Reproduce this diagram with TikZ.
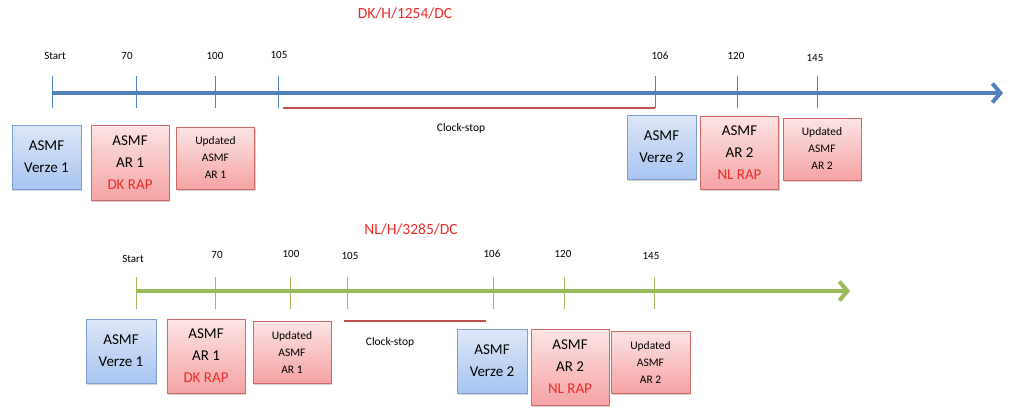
\documentclass[tikz,border=0pt]{standalone}
\usepackage{fontspec}
\setmainfont{Carlito}
\usetikzlibrary{arrows.meta,shadows}
\definecolor{axblue}{HTML}{4F81BD}
\definecolor{axgreen}{HTML}{9BBB59}
\definecolor{csred}{HTML}{C0504D}
\definecolor{ttred}{HTML}{EE2A2A}
\definecolor{bTop}{HTML}{DDE7F8}
\definecolor{bBot}{HTML}{A7C4F0}
\definecolor{bBorder}{HTML}{7E9FD3}
\definecolor{rTop}{HTML}{FDE4E4}
\definecolor{rBot}{HTML}{F5A3A3}
\definecolor{rBorder}{HTML}{CF6A68}
\tikzset{
  box/.style={draw, line width=0.8pt, align=center, inner sep=0pt,
    drop shadow={shadow xshift=1.2pt, shadow yshift=-1.8pt, opacity=0.35}},
  bluebox/.style={box, draw=bBorder, top color=bTop, bottom color=bBot,
    minimum width=69pt, minimum height=64pt,
    font=\fontsize{15}{22}\selectfont},
  redbox/.style={box, draw=rBorder, top color=rTop, bottom color=rBot,
    minimum width=78pt, minimum height=75pt,
    font=\fontsize{15}{22}\selectfont},
  updbox/.style={box, draw=rBorder, top color=rTop, bottom color=rBot,
    minimum width=78pt, minimum height=62pt,
    font=\fontsize{11.5}{17}\selectfont},
  ticklbl/.style={font=\fontsize{11}{13}\selectfont, inner sep=0pt},
  title/.style={font=\fontsize{15.5}{18}\selectfont, text=ttred, inner sep=0pt},
  cslbl/.style={font=\fontsize{11.5}{13}\selectfont, inner sep=0pt},
  axisA/.style={line width=4pt, -{Straight Barb[length=8pt,width=19pt,line width=4pt]}},
  tickA/.style={line width=0.9pt},
  csline/.style={draw=csred, line width=2.2pt},
}
\begin{document}
\begin{tikzpicture}[x=1pt,y=-1pt]
\useasboundingbox (0,0) rectangle (1023,416);
% ---------- top timeline ----------
\node[title] (t1) at (405,13) {DK/H/1254/DC};
\coordinate (a1s) at (52,93);
\coordinate (a1e) at (1003,93);
\draw[axisA, draw=axblue] (a1s) -- (a1e);
\foreach \n/\x in {s/52,a/136,b/215,c/278,d/655,e/737,f/817}{
  \coordinate (T1\n u) at (\x,76);
  \coordinate (T1\n d) at (\x,108);
  \draw[tickA, draw=axblue] (T1\n u) -- (T1\n d);
}
\node[ticklbl] (l1s) at (55,56) {Start};
\node[ticklbl] (l1a) at (127,56) {70};
\node[ticklbl] (l1b) at (215,56) {100};
\node[ticklbl] (l1c) at (279,55) {105};
\node[ticklbl] (l1d) at (660,56) {106};
\node[ticklbl] (l1e) at (736,56) {120};
\node[ticklbl] (l1f) at (815,58) {145};
\coordinate (c1s) at (283,108);
\coordinate (c1e) at (655,108);
\draw[csline] (c1s) -- (c1e);
\node[cslbl] (cs1) at (461,128) {Clock-stop};
\node[bluebox] (v11) at (46.5,157) {ASMF\\Verze 1};
\node[redbox] (r11) at (130,162.5) {ASMF\\AR 1\\\textcolor{ttred}{DK RAP}};
\node[updbox] (u11) at (215.5,158) {Updated\\ASMF\\AR 1};
\node[bluebox] (v12) at (661.5,147) {ASMF\\Verze 2};
\node[redbox, minimum height=73pt] (r12) at (739.5,152.5) {ASMF\\AR 2\\\textcolor{ttred}{NL RAP}};
\node[updbox] (u12) at (822,149) {Updated\\ASMF\\AR 2};
% ---------- bottom timeline ----------
\node[title] (t2) at (411,229) {NL/H/3285/DC};
\coordinate (a2s) at (136,291);
\coordinate (a2e) at (850,291);
\draw[axisA, draw=axgreen] (a2s) -- (a2e);
\foreach \n/\x in {s/136,a/215,b/290,c/347,d/493,e/564,f/654}{
  \coordinate (T2\n u) at (\x,277);
  \coordinate (T2\n d) at (\x,309);
  \draw[tickA, draw=axgreen] (T2\n u) -- (T2\n d);
}
\node[ticklbl] (l2s) at (133,259) {Start};
\node[ticklbl] (l2a) at (217,255) {70};
\node[ticklbl] (l2b) at (291,254) {100};
\node[ticklbl] (l2c) at (350,256) {105};
\node[ticklbl] (l2d) at (492,254) {106};
\node[ticklbl] (l2e) at (563,254) {120};
\node[ticklbl] (l2f) at (651,256) {145};
\coordinate (c2s) at (344,321);
\coordinate (c2e) at (486,321);
\draw[csline] (c2s) -- (c2e);
\node[cslbl] (cs2) at (390,342) {Clock-stop};
\node[bluebox, minimum width=70pt] (v21) at (121,351) {ASMF\\Verze 1};
\node[redbox, minimum height=74pt] (r21) at (206,356) {ASMF\\AR 1\\\textcolor{ttred}{DK RAP}};
\node[updbox] (u21) at (292,352) {Updated\\ASMF\\AR 1};
\node[bluebox, minimum width=70pt] (v22) at (492,361) {ASMF\\Verze 2};
\node[redbox, minimum height=76pt] (r22) at (570,367) {ASMF\\AR 2\\\textcolor{ttred}{NL RAP}};
\node[updbox, minimum width=79pt] (u22) at (650.5,362) {Updated\\ASMF\\AR 2};
\end{tikzpicture}
\end{document}
